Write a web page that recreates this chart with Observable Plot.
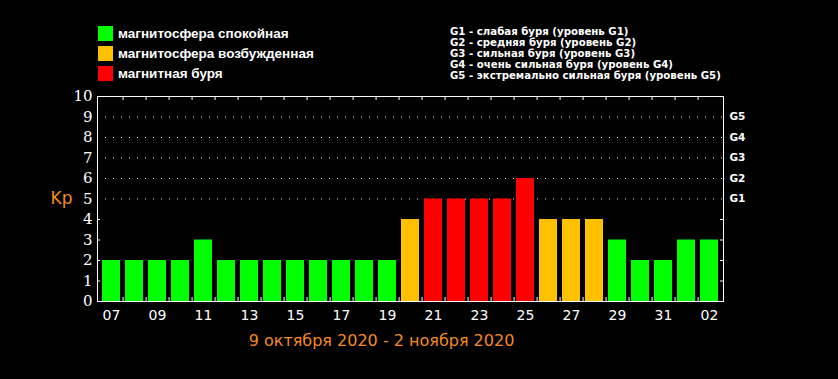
<!DOCTYPE html>
<html>
<head>
<meta charset="utf-8">
<script src="https://cdn.jsdelivr.net/npm/d3@7"></script>
<script src="https://cdn.jsdelivr.net/npm/@observablehq/plot@0.6"></script>
<style>
  html, body { margin: 0; padding: 0; background: #000; }
  #wrap { position: relative; width: 838px; height: 379px; background: #000; overflow: hidden; }
  #wrap svg { position: absolute; left: 0; top: 0; }
  .leg { position: absolute; font-family: "DejaVu Sans", sans-serif; color: #fff; white-space: nowrap; }
  .row { position: absolute; left: 0; height: 15px; display: flex; align-items: center; }
  .sw { width: 15px; height: 15px; margin-right: 5px; }
  .lab { font-family: "Liberation Sans", Arial, sans-serif; font-size: 13.5px; font-weight: bold; line-height: 15px; }
  #gleg { left: 450px; top: 26px; font-size: 10.2px; font-weight: bold; line-height: 11.1px; }
</style>
</head>
<body>
<div id="wrap"></div>
<script>
// Days shown on the x axis (October 7 ... November 2)
const days = ["07","08","09","10","11","12","13","14","15","16","17","18","19","20",
              "21","22","23","24","25","26","27","28","29","30","31","01","02"];
// Daily maximum Kp index
const kp = [2,2,2,2,3,2,2,2,2,2,2,2,2,4,5,5,5,5,6,4,4,4,3,2,2,3,3];
// Magnetosphere status per day
const status = ["q","q","q","q","q","q","q","q","q","q","q","q","q","e",
                "s","s","s","s","s","e","e","e","q","q","q","q","q"];
// Labeled ticks (every other day)
const labelDays = ["07","09","11","13","15","17","19","21","23","25","27","29","31","02"];
// Y ticks and storm levels
const yTicks = [0,1,2,3,4,5,6,7,8,9,10];
const gLevels = [5,6,7,8,9];
const gNames = ["G1","G2","G3","G4","G5"];
const statusKeys = ["q","e","s"];
const statusNames = ["магнитосфера спокойная","магнитосфера возбужденная","магнитная буря"];
const statusColors = ["#00ff00","#ffc000","#ff0000"];
const stormLegend = [
  "G1 - слабая буря (уровень G1)",
  "G2 - средняя буря (уровень G2)",
  "G3 - сильная буря (уровень G3)",
  "G4 - очень сильная буря (уровень G4)",
  "G5 - экстремально сильная буря (уровень G5)"
];
const caption = "9 октября 2020 - 2 ноября 2020";
const yLabel = "Kp";

const data = days.map((d, i) => ({day: d, kp: kp[i], status: status[i]}));
const colorOf = s => statusColors[statusKeys.indexOf(s)];

const W = 838, H = 379;
const mL = 97, mR = 115, mT = 96, mB = 78;
const fw = W - mL - mR, fh = H - mT - mB;
const step = fw / days.length;
const orange = "#f48a22";

const chart = Plot.plot({
  width: W, height: H,
  marginLeft: mL, marginRight: mR, marginTop: mT, marginBottom: mB,
  style: {background: "#000", color: "#fff", fontFamily: "DejaVu Sans, sans-serif"},
  x: {type: "band", domain: days, paddingInner: 0.22, paddingOuter: 0.11, axis: null, label: null},
  y: {domain: [0, 10], axis: null, label: null},
  marks: [
    Plot.ruleY(gLevels, {stroke: "#fff", strokeDasharray: "1,7"}),
    Plot.barY(data, {x: "day", y: "kp", fill: d => colorOf(d.status)}),
    Plot.frame({stroke: "#fff"}),
    // inward ticks on left and right at 1..4
    Plot.tickY([1,2,3,4], {y: d => d, stroke: "#fff", insetRight: fw - 3}),
    Plot.tickY([1,2,3,4], {y: d => d, stroke: "#fff", insetLeft: fw - 3}),
    // day boundary ticks, top and bottom
    Plot.tickX(days.slice(0, -1), {x: d => d, dx: step / 2, stroke: "#fff", insetBottom: fh - 4}),
    Plot.tickX(days.slice(0, -1), {x: d => d, dx: step / 2, stroke: "#fff", insetTop: fh - 4}),
    Plot.axisY(yTicks, {anchor: "left", label: null, tickSize: 0, tickPadding: 5, fontSize: 15,
      fontFamily: "DejaVu Serif, serif", fill: "#fff"}),
    Plot.axisY(gLevels, {anchor: "right", label: null, tickSize: 0, tickPadding: 6,
      tickFormat: d => gNames[gLevels.indexOf(d)], fontSize: 10.5, fontWeight: "bold", fill: "#fff"}),
    Plot.axisX(labelDays, {anchor: "bottom", label: null, tickSize: 0, tickPadding: 9, fontSize: 14, fill: "#fff"}),
    Plot.text([yLabel], {y: () => 5, frameAnchor: "left", dx: -36, textAnchor: "middle",
      fill: orange, fontSize: 17}),
    Plot.text([caption], {frameAnchor: "bottom", dy: 39, dx: -29, lineAnchor: "middle",
      fill: orange, fontSize: 16})
  ]
});

const wrap = document.getElementById("wrap");
wrap.appendChild(chart);

// status legend
const leg = document.createElement("div");
leg.className = "leg";
leg.style.left = "98px"; leg.style.top = "26px";
statusNames.forEach((name, i) => {
  const row = document.createElement("div");
  row.className = "row";
  row.style.top = (i * 20) + "px";
  const sw = document.createElement("div");
  sw.className = "sw"; sw.style.background = statusColors[i];
  const lab = document.createElement("span");
  lab.className = "lab"; lab.textContent = name;
  row.appendChild(sw); row.appendChild(lab);
  leg.appendChild(row);
});
wrap.appendChild(leg);

// storm-level legend
const gleg = document.createElement("div");
gleg.className = "leg"; gleg.id = "gleg";
stormLegend.forEach(t => {
  const r = document.createElement("div");
  r.textContent = t;
  gleg.appendChild(r);
});
wrap.appendChild(gleg);
</script>
</body>
</html>
